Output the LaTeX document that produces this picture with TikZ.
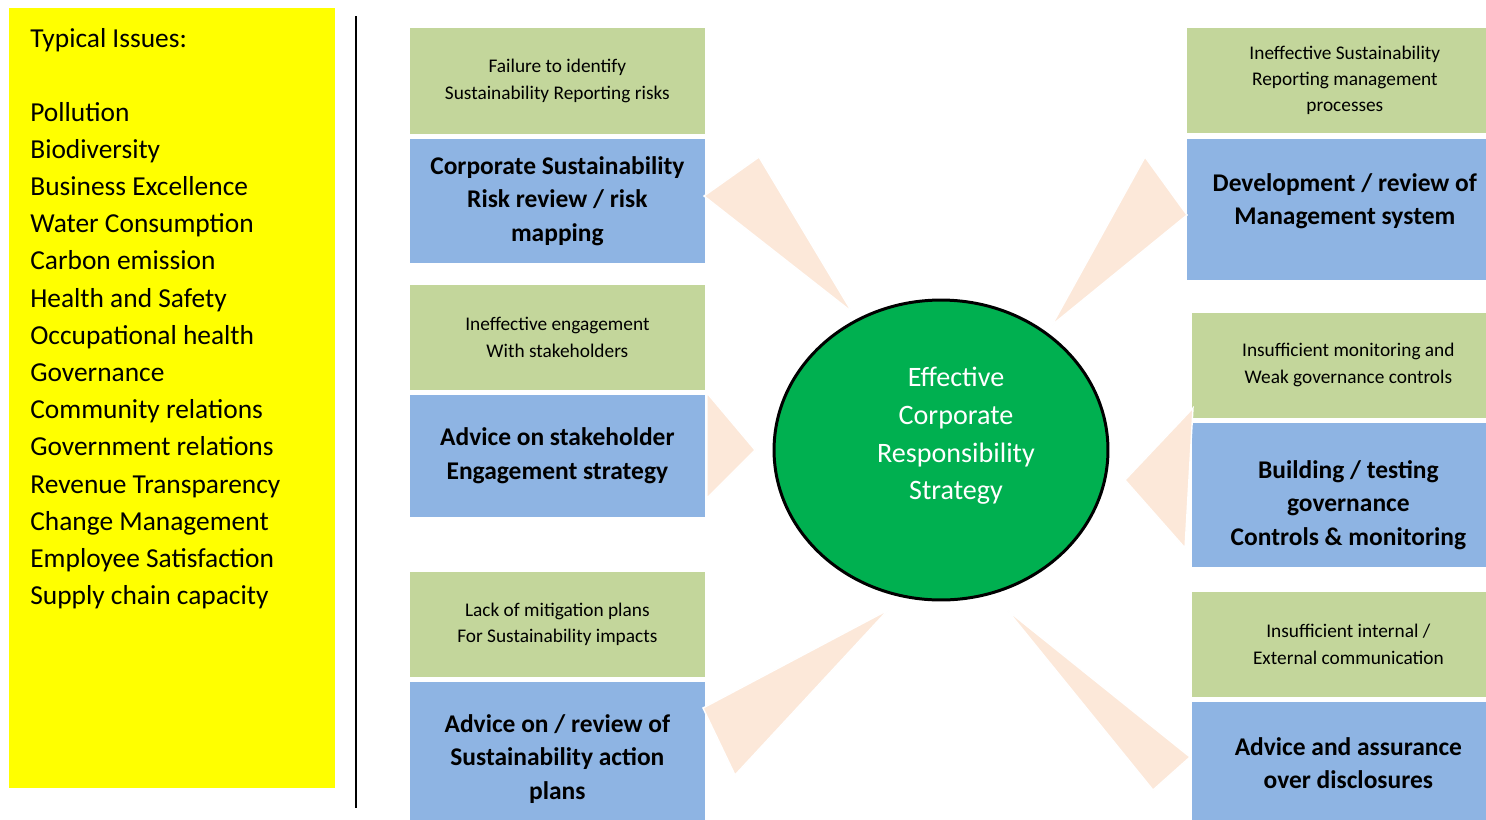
\documentclass[tikz,border=0pt]{standalone}
\usepackage{fontspec}
\setmainfont{Carlito}
\usetikzlibrary{shapes.geometric}
\definecolor{panelyellow}{HTML}{FFFF00}
\definecolor{riskgreen}{HTML}{C3D69B}
\definecolor{adviceblue}{HTML}{8EB4E3}
\definecolor{calloutpeach}{HTML}{FCE8D9}
\definecolor{hubgreen}{HTML}{00B050}
\tikzset{
  risk/.style={anchor=north west, fill=riskgreen, draw=white, line width=1pt, align=center, inner sep=2pt,
    font=\fontsize{11}{15.3}\selectfont},
  advice/.style={anchor=north west, fill=adviceblue, draw=white, line width=1pt, align=center, inner sep=2pt,
    font=\bfseries\fontsize{14.5}{19}\selectfont},
  callout/.style={fill=calloutpeach, draw=white, line width=0.8pt},
  hub/.style={ellipse, fill=hubgreen, draw=black, line width=1.7pt, minimum width=6.68cm, minimum height=6cm},
}
\begin{document}
\begin{tikzpicture}[x=0.02cm, y=-0.02cm]
\useasboundingbox (0,0) rectangle (1486,819);
\clip (0,0) rectangle (1486,819);
% issues panel
\node[anchor=north west, fill=panelyellow, minimum width=6.52cm, minimum height=15.6cm, inner sep=0pt] (panel) at (9,8) {};
\node[anchor=base west, inner sep=0pt, font=\fontsize{15.6}{21}\selectfont] (paneltitle) at (30,47) {Typical Issues:};
\foreach \iss [count=\i] in {Pollution, Biodiversity, Business Excellence, Water Consumption, Carbon emission,
  Health and Safety, Occupational health, Governance, Community relations, Government relations,
  Revenue Transparency, Change Management, Employee Satisfaction, Supply chain capacity}
  \node[anchor=base west, inner sep=0pt, font=\fontsize{15.6}{21}\selectfont] (issue\i) at (30,{121+37.2*(\i-1)}) {\iss};
\draw[line width=1.1pt] (356,16) -- (356,808);

% left column
\node[risk, minimum width=5.94cm, minimum height=2.16cm] (riskA) at (408,26) {Failure to identify\\Sustainability Reporting risks};
\node[advice, minimum width=5.94cm, minimum height=2.52cm] (adviceA) at (408,137) {Corporate Sustainability\\Risk review / risk\\mapping};
\node[risk, minimum width=5.94cm, minimum height=2.14cm] (riskB) at (408,283) {Ineffective engagement\\With stakeholders};
\node[advice, minimum width=5.94cm, minimum height=2.48cm] (adviceB) at (408,393) {Advice on stakeholder\\Engagement strategy};
\node[risk, minimum width=5.94cm, minimum height=2.14cm] (riskC) at (408,570) {Lack of mitigation plans\\For Sustainability impacts};
\node[advice, minimum width=5.94cm, minimum height=3.12cm] (adviceC) at (408,680) {Advice on / review of\\Sustainability action\\plans};

% right column (cut off at the page edge)
\node[risk, minimum width=6.36cm, minimum height=2.14cm, font=\fontsize{11}{15}\selectfont] (riskD) at (1185,26) {Ineffective Sustainability\\Reporting management\\processes};
\node[advice, minimum width=6.36cm, minimum height=2.86cm] (adviceD) at (1185,137) {Development / review of\\Management system\\[-7pt]\mbox{}};
\node[risk, minimum width=6.3cm, minimum height=2.14cm] (riskE) at (1190,311) {Insufficient monitoring and\\Weak governance controls};
\node[advice, minimum width=6.3cm, minimum height=2.92cm] (adviceE) at (1190,421) {\mbox{}\\[2.6pt]Building / testing\\governance\\Controls \& monitoring};
\node[risk, minimum width=6.3cm, minimum height=2.14cm] (riskF) at (1190,590) {Insufficient internal /\\External communication};
\node[advice, minimum width=6.3cm, minimum height=2.5cm] (adviceF) at (1190,700) {Advice and assurance\\over disclosures};

% callouts
\fill[callout] (759,157) -- (704,196) -- (852,312) -- cycle;
\fill[callout] (707,393) -- (755,450) -- (707,498) -- cycle;
\fill[callout] (888,610) -- (703,708) -- (735,775) -- cycle;
\fill[callout] (1145,157) -- (1187,215) -- (1052,325) -- cycle;
\fill[callout] (1193,408) -- (1125,480) -- (1185,548) -- cycle;
\fill[callout] (1007,610) -- (1190,757) -- (1153,790) -- cycle;

% strategy
\node[hub] (hub) at (941,450) {};
\node[align=center, text=white, font=\fontsize{16}{21.4}\selectfont] (hubtext) at (956,436) {Effective\\Corporate\\Responsibility\\Strategy};
\end{tikzpicture}
\end{document}
